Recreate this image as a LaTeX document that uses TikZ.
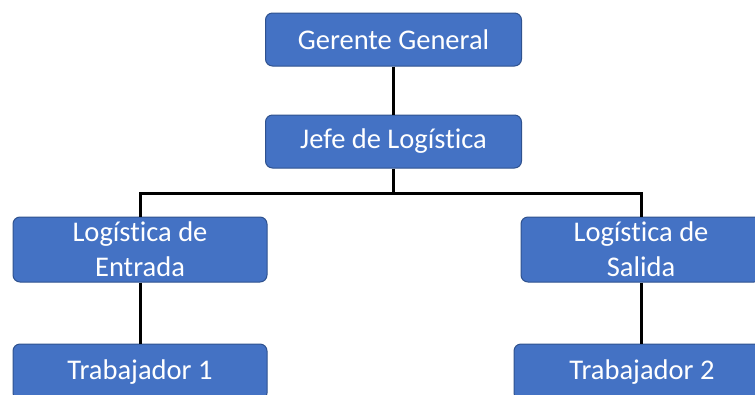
\documentclass[tikz,border=0pt]{standalone}
\usepackage{fontspec}
\setmainfont{Carlito}[Ligatures={NoCommon}]
\definecolor{boxfill}{HTML}{4472C4}
\definecolor{boxline}{HTML}{2F528F}
\begin{document}
\begin{tikzpicture}[x=1pt,y=-1pt,
  orgbox/.style={draw=boxline, line width=1pt, fill=boxfill, rounded corners=7pt,
    text=white, align=center, inner sep=0pt,
    font=\fontsize{28.5}{35}\selectfont},
  link/.style={line width=3pt, black}]
\useasboundingbox (0,0) rectangle (755,394);
\clip (0,0) rectangle (755,394);
\node[orgbox, minimum width=256, minimum height=53] (gg) at (393.5,39.5) {Gerente General};
\node[orgbox, minimum width=256, minimum height=53] (jl) at (393.5,141.5) {Jefe de Logística};
\node[orgbox, minimum width=254, minimum height=65] (le) at (140,249.5) {Logística de\\Entrada};
\node[orgbox, minimum width=240, minimum height=65] (ls) at (641,249.5) {Logística de\\Salida};
\node[orgbox, minimum width=254, minimum height=56] (t1) at (140,372) {Trabajador 1};
\node[orgbox, minimum width=256, minimum height=56] (t2) at (642,372) {Trabajador 2};
\coordinate (bus) at (393.5,193);
\draw[link] (gg.south) -- (jl.north);
\draw[link] (jl.south) -- (bus);
\draw[link] (bus) -| (le.north);
\draw[link] (bus) -| (ls.north);
\draw[link] (le.south) -- (t1.north);
\draw[link] (ls.south) -- (ls.south |- t2.north);
\end{tikzpicture}
\end{document}
